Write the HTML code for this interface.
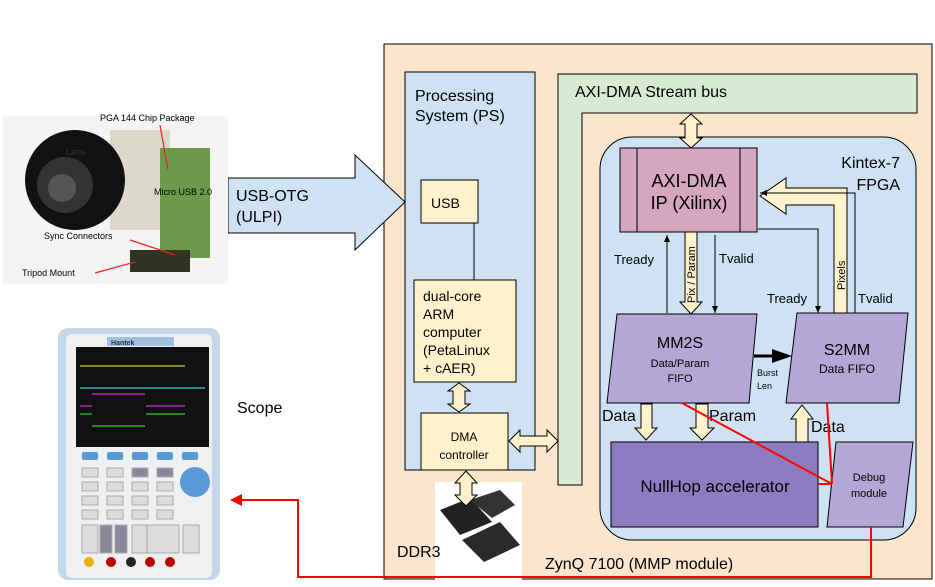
<!DOCTYPE html>
<html><head><meta charset="utf-8"><style>
body{margin:0;background:#fff;}
svg{display:block;font-family:"Liberation Sans",sans-serif;}
</style></head><body>
<svg width="935" height="587" viewBox="0 0 935 587" xmlns="http://www.w3.org/2000/svg">
<defs>
<marker id="ah" markerWidth="8" markerHeight="8" refX="7" refY="4" orient="auto" markerUnits="userSpaceOnUse"><path d="M0,1 L7,4 L0,7 Z" fill="#000"/></marker>
</defs>
<rect x="384" y="44" width="548" height="535" fill="#fce5cd" stroke="#000" stroke-width="1"/>
<rect x="405" y="72" width="130" height="398" fill="#cfe2f3" stroke="#000"/>
<text x="415" y="101" font-size="16">Processing</text>
<text x="415" y="121" font-size="16">System (PS)</text>
<rect x="421" y="180" width="57" height="43" fill="#fff2cc" stroke="#000"/>
<text x="431" y="208" font-size="14">USB</text>
<line x1="474" y1="223" x2="474" y2="280" stroke="#000"/>
<rect x="414" y="280" width="102" height="102" fill="#fff2cc" stroke="#000"/>
<text font-size="14"><tspan x="423" y="301">dual-core</tspan><tspan x="423" y="319">ARM</tspan><tspan x="423" y="337">computer</tspan><tspan x="423" y="355">(PetaLinux</tspan><tspan x="423" y="373">+ cAER)</tspan></text>
<rect x="421" y="413" width="87" height="57" fill="#fff2cc" stroke="#000"/>
<text x="464" y="441" font-size="12" text-anchor="middle">DMA</text>
<text x="464" y="459" font-size="12" text-anchor="middle">controller</text>
<path d="M459,383 L470,391 L465,391 L465,404 L470,404 L459,412 L448,404 L453,404 L453,391 L448,391 Z" fill="#fff2cc" stroke="#000"/>
<path d="M509,441 L520,430 L520,436 L547,436 L547,430 L558,441 L547,452 L547,446 L520,446 L520,452 Z" fill="#fff2cc" stroke="#000"/>
<rect x="435" y="482" width="87" height="100" fill="#fff"/>
<path d="M440,510 L470,498 L492,522 L460,535 Z" fill="#222"/>
<path d="M462,540 L500,522 L520,545 L484,562 Z" fill="#2a2a2a"/>
<path d="M470,500 L500,490 L515,505 L492,518 Z" fill="#333"/>
<path d="M466,471 L477,483 L472,483 L472,495 L477,495 L466,506 L455,495 L460,495 L460,483 L455,483 Z" fill="#fff2cc" stroke="#000"/>
<text x="397" y="557" font-size="16">DDR3</text>
<text x="545" y="569" font-size="16">ZynQ 7100 (MMP module)</text>
<path d="M558,74 L917,74 L917,113 L582,113 L582,485 L558,485 Z" fill="#d9ead3" stroke="#000"/>
<text x="575" y="97" font-size="16">AXI-DMA Stream bus</text>
<rect x="600" y="137" width="316" height="403" rx="32" fill="#cfe2f3" stroke="#000"/>
<text x="900" y="168" font-size="16" text-anchor="end">Kintex-7</text>
<text x="900" y="190" font-size="16" text-anchor="end">FPGA</text>
<path d="M691,114 L702,124 L697,124 L697,138 L702,138 L691,148 L680,138 L685,138 L685,124 L680,124 Z" fill="#fff2cc" stroke="#000"/>
<rect x="620" y="148" width="137" height="84" fill="#d5a6bd" stroke="#000"/>
<line x1="637" y1="148" x2="637" y2="232" stroke="#000"/>
<line x1="740" y1="148" x2="740" y2="232" stroke="#000"/>
<text x="689" y="187" font-size="18" text-anchor="middle">AXI-DMA</text>
<text x="689" y="209" font-size="18" text-anchor="middle">IP (Xilinx)</text>
<path d="M685,232 L697,232 L697,302 L702,302 L691,314 L680,302 L685,302 Z" fill="#fff2cc" stroke="#000"/>
<text transform="translate(695,303) rotate(-90)" font-size="11">Pix / Param</text>
<line x1="667" y1="313" x2="667" y2="235" stroke="#000" marker-end="url(#ah)"/>
<line x1="715" y1="235" x2="715" y2="313" stroke="#000" marker-end="url(#ah)"/>
<text x="614" y="264" font-size="13">Tready</text>
<text x="719" y="263" font-size="13">Tvalid</text>
<path d="M834,313 L834,205 L786,205 L786,214 L760,196 L786,178 L786,188 L847,188 L847,313 Z" fill="#fff2cc" stroke="#000"/>
<text transform="translate(845,290) rotate(-90)" font-size="11">Pixels</text>
<polyline points="855,313 855,193 760,193" fill="none" stroke="#000" marker-end="url(#ah)"/>
<polyline points="758,229 818,229 818,313" fill="none" stroke="#000" marker-end="url(#ah)"/>
<text x="767" y="303" font-size="13">Tready</text>
<text x="858" y="303" font-size="13">Tvalid</text>
<polygon points="617,314 757,314 749,403 607,403" fill="#b4a7d6" stroke="#000"/>
<text x="680" y="348" font-size="16" text-anchor="middle">MM2S</text>
<text x="680" y="367" font-size="11" text-anchor="middle">Data/Param</text>
<text x="680" y="382" font-size="11" text-anchor="middle">FIFO</text>
<polygon points="797,313 908,313 899,403 786,403" fill="#b4a7d6" stroke="#000"/>
<text x="847" y="355" font-size="16" text-anchor="middle">S2MM</text>
<text x="847" y="373" font-size="12" text-anchor="middle">Data FIFO</text>
<line x1="754" y1="356" x2="775" y2="356" stroke="#000" stroke-width="3"/>
<path d="M772,349 L792,356 L772,363 Z" fill="#000"/>
<text x="757" y="376" font-size="9">Burst</text>
<text x="757" y="389" font-size="9">Len</text>
<path d="M641,404 L652,404 L652,428 L657,428 L646,440 L635,428 L641,428 Z" fill="#fff2cc" stroke="#000"/>
<path d="M696,404 L708,404 L708,428 L714,428 L702,440 L690,428 L696,428 Z" fill="#fff2cc" stroke="#000"/>
<path d="M796,442 L796,419 L791,419 L802,405 L813,419 L808,419 L808,442 Z" fill="#fff2cc" stroke="#000"/>
<text x="602" y="421" font-size="16">Data</text>
<text x="709" y="421" font-size="16">Param</text>
<text x="811" y="432" font-size="16">Data</text>
<rect x="611" y="442" width="207" height="85" fill="#8e7cc3" stroke="#000"/>
<text x="715" y="492" font-size="17" text-anchor="middle">NullHop accelerator</text>
<polygon points="836,442 913,442 903,527 827,527" fill="#b4a7d6" stroke="#000"/>
<text x="869" y="481" font-size="11" text-anchor="middle">Debug</text>
<text x="869" y="497" font-size="11" text-anchor="middle">module</text>
<g stroke="#f00" stroke-width="2" fill="none">
<line x1="682" y1="403" x2="832" y2="484"/>
<line x1="818" y1="484" x2="832" y2="484"/>
<line x1="827" y1="403" x2="832" y2="484"/>
<polyline points="871,527 871,577 298,577 298,500 240,500"/>
</g>
<path d="M230,500 L242,494 L242,506 Z" fill="#f00"/>
<path d="M228,178 L355,178 L355,155 L405,202 L355,250 L355,233 L228,233 Z" fill="#cfe2f3" stroke="#000"/>
<text x="236" y="201" font-size="16">USB-OTG</text>
<text x="236" y="222" font-size="16">(ULPI)</text>
<rect x="3" y="116" width="225" height="168" fill="#f4f4f2"/>
<rect x="110" y="130" width="60" height="100" fill="#ddd8cc"/>
<rect x="160" y="148" width="50" height="110" fill="#6a9a4a"/>
<circle cx="75" cy="180" r="50" fill="#111"/>
<circle cx="65" cy="185" r="28" fill="#333"/>
<circle cx="62" cy="188" r="14" fill="#555"/>
<rect x="130" y="250" width="60" height="22" fill="#332"/>
<text x="100" y="121" font-size="9">PGA 144 Chip Package</text>
<text x="66" y="155" font-size="9" fill="#333">Lens</text>
<text x="154" y="195" font-size="9">Micro USB 2.0</text>
<text x="44" y="239" font-size="9">Sync Connectors</text>
<text x="22" y="276" font-size="9">Tripod Mount</text>
<g stroke="#e22" stroke-width="1.2"><line x1="160" y1="125" x2="168" y2="170"/><line x1="130" y1="240" x2="175" y2="255"/><line x1="95" y1="273" x2="135" y2="262"/></g>
<rect x="58" y="328" width="162" height="252" rx="10" fill="#c4d6e8"/>
<rect x="66" y="334" width="146" height="244" rx="6" fill="#eef0f2"/>
<rect x="107" y="337" width="67" height="9" fill="#9fc0e0"/>
<text x="111" y="345" font-size="7" font-weight="bold" fill="#234">Hantek</text>
<rect x="76" y="347" width="133" height="100" fill="#111"/>
<g stroke-width="1.2"><line x1="80" y1="388" x2="205" y2="388" stroke="#3cc"/><line x1="92" y1="394" x2="145" y2="394" stroke="#c3c"/><line x1="146" y1="406" x2="185" y2="406" stroke="#c3c"/><line x1="80" y1="406" x2="92" y2="406" stroke="#c3c"/><line x1="80" y1="414" x2="92" y2="414" stroke="#3c3"/><line x1="92" y1="426" x2="145" y2="426" stroke="#3c3"/><line x1="146" y1="414" x2="185" y2="414" stroke="#3c3"/><line x1="80" y1="366" x2="185" y2="366" stroke="#cc3"/></g>
<g fill="#5a9ad8"><rect x="82" y="452" width="16" height="8" rx="2"/><rect x="107" y="452" width="16" height="8" rx="2"/><rect x="132" y="452" width="16" height="8" rx="2"/><rect x="157" y="452" width="16" height="8" rx="2"/><rect x="182" y="452" width="16" height="8" rx="2"/><circle cx="195" cy="482" r="15"/></g>
<g fill="#dcdcdc" stroke="#aaa"><rect x="82" y="468" width="16" height="9"/><rect x="107" y="468" width="16" height="9"/><rect x="132" y="468" width="16" height="9" fill="#889"/><rect x="157" y="468" width="16" height="9" fill="#889"/><rect x="82" y="482" width="16" height="9"/><rect x="107" y="482" width="16" height="9"/><rect x="132" y="482" width="16" height="9"/><rect x="157" y="482" width="16" height="9"/><rect x="82" y="496" width="16" height="9"/><rect x="107" y="496" width="16" height="9"/><rect x="132" y="496" width="16" height="9"/><rect x="157" y="496" width="16" height="9"/><rect x="82" y="510" width="16" height="9"/><rect x="107" y="510" width="16" height="9"/><rect x="132" y="510" width="16" height="9"/><rect x="157" y="510" width="16" height="9"/><rect x="82" y="525" width="16" height="28"/><rect x="100" y="525" width="12" height="28" fill="#889"/><rect x="115" y="525" width="12" height="28" fill="#889"/><rect x="132" y="525" width="16" height="28"/><rect x="147" y="525" width="32" height="28"/><rect x="183" y="525" width="16" height="28"/></g>
<g><circle cx="89" cy="562" r="5" fill="#e8b000"/><circle cx="111" cy="562" r="5" fill="#b00"/><circle cx="131" cy="562" r="5" fill="#222"/><circle cx="150" cy="562" r="5" fill="#b00"/><circle cx="170" cy="562" r="5" fill="#b00"/></g>
<text x="237" y="413" font-size="16">Scope</text>
</svg>
</body></html>
